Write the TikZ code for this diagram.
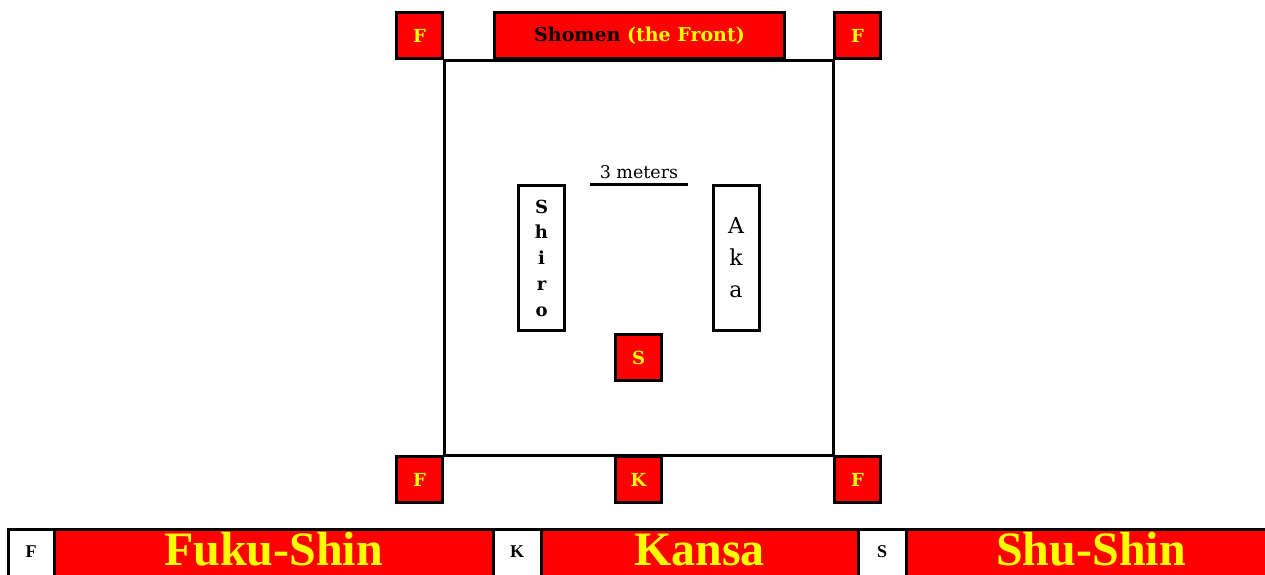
\documentclass[tikz,border=0pt]{standalone}
\usepackage{fontspec}
\usepackage{xcolor}
\usepackage{tikz}
\setmainfont{DejaVu Serif}
\newfontfamily\timesfont{Liberation Serif}
\definecolor{shiaired}{RGB}{255,0,0}
\definecolor{shiaiyellow}{RGB}{255,255,0}

\tikzset{
  judge/.style={draw, line width=3pt, fill=shiaired, text=shiaiyellow,
    font=\bfseries\fontsize{18}{18}\selectfont, minimum size=46pt, inner sep=0pt},
  player/.style={draw, line width=3pt, fill=white, minimum width=46pt,
    minimum height=145pt, inner sep=0pt, align=center},
  keycell/.style={draw, line width=3pt, fill=white, anchor=north west, outer sep=0pt,
    inner xsep=0pt, inner ysep=0pt, text height=28pt, text depth=32pt,
    font=\timesfont\bfseries\fontsize{18}{18}\selectfont},
  namecell/.style={draw, line width=3pt, fill=shiaired, text=shiaiyellow, anchor=north west,
    outer sep=0pt, inner xsep=0pt, inner ysep=0pt, text height=36pt, text depth=24pt,
    font=\timesfont\bfseries\fontsize{48}{48}\selectfont},
}

\begin{document}
\begin{tikzpicture}[x=1pt, y=-1pt]
  \clip (0,0) rectangle (1265,574);
  \fill[white] (0,0) rectangle (1265,574);

  % the corners of the court
  \node[judge] (tlF) at (419.5,35.5) {F};
  \node[judge] (trF) at (857.5,35.5) {F};
  \node[judge] (blF) at (419.5,479.5) {F};
  \node[judge] (brF) at (857.5,479.5) {F};
  \draw[line width=3pt] (tlF.south east) -- (trF.south west) -- (brF.north west)
    -- (blF.north east) -- cycle;

  \node[judge, minimum width=290pt, font=\bfseries\fontsize{19}{19}\selectfont] (shomen)
    at (639.5,35.5) {\textcolor{black}{Shomen} (the Front)};
  \node[judge] (kansa) at (638.5,479.5) {K};
  \node[judge] (shushin) at (638.5,357.5) {S};

  % players
  \node[player, font=\bfseries\fontsize{18}{25.75}\selectfont] (shiro) at (541.5,258)
    {S\\h\\i\\r\\o};
  \node[player, font=\fontsize{22}{32}\selectfont] (aka) at (736,258) {A\\k\\a};

  % distance
  \coordinate (m1) at (590,184);
  \coordinate (m2) at (688,184);
  \draw[line width=3pt] (m1) -- (m2)
    node[midway, above=0pt, font=\fontsize{17.5}{17.5}\selectfont] (dist) {3 meters};

  % legend
  \node[keycell, minimum width=46pt] (fkey) at (8,529) {F};
  \node[namecell, minimum width=439pt] (fname) at (fkey.north east) {Fuku-Shin};
  \node[keycell, minimum width=48pt] (kkey) at (fname.north east) {K};
  \node[namecell, minimum width=317pt] (kname) at (kkey.north east) {Kansa};
  \node[keycell, minimum width=48pt] (skey) at (kname.north east) {S};
  \node[namecell, minimum width=370pt, text width=359pt, align=center] (sname)
    at (skey.north east) {Shu-Shin};
\end{tikzpicture}
\end{document}
